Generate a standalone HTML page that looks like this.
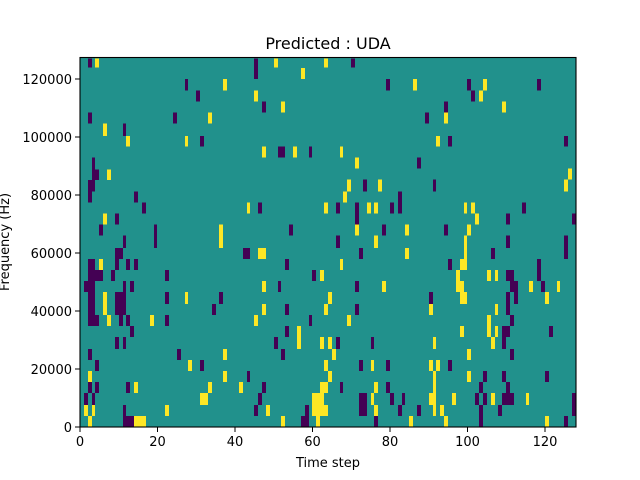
<!DOCTYPE html>
<html><head><meta charset="utf-8"><style>body{margin:0;background:#fff}svg{display:block}text{font-family:"DejaVu Sans","Liberation Sans",sans-serif;fill:#000}</style></head><body>
<svg width="640" height="480" viewBox="0 0 640 480" xmlns="http://www.w3.org/2000/svg">
<rect width="640" height="480" fill="#fff"/>
<defs><clipPath id="c"><rect x="80" y="57" width="496" height="370"/></clipPath></defs>
<g clip-path="url(#c)" shape-rendering="crispEdges">
<rect x="80" y="57" width="496" height="370" fill="#21918c"/>
<g transform="translate(80,56) scale(0.33333)">
<g fill="#440154">
<rect x="24" y="8" width="12" height="27"/><rect x="522" y="8" width="12" height="61"/><rect x="315" y="69" width="9" height="35"/><rect x="348" y="104" width="12" height="33"/><rect x="546" y="137" width="12" height="33"/><rect x="24" y="170" width="12" height="33"/><rect x="279" y="170" width="12" height="33"/><rect x="129" y="203" width="9" height="37"/><rect x="360" y="240" width="12" height="32"/><rect x="594" y="272" width="21" height="33"/><rect x="687" y="272" width="9" height="33"/><rect x="36" y="305" width="9" height="35"/><rect x="36" y="340" width="21" height="32"/><rect x="24" y="372" width="21" height="35"/><rect x="24" y="407" width="12" height="33"/><rect x="162" y="407" width="12" height="33"/><rect x="186" y="440" width="12" height="33"/><rect x="534" y="440" width="12" height="33"/><rect x="105" y="473" width="12" height="33"/><rect x="57" y="506" width="12" height="33"/><rect x="222" y="506" width="9" height="64"/><rect x="627" y="506" width="12" height="33"/><rect x="129" y="539" width="9" height="31"/>
</g><g fill="#fde725">
<rect x="45" y="8" width="12" height="27"/><rect x="582" y="8" width="12" height="27"/><rect x="732" y="8" width="12" height="27"/><rect x="663" y="36" width="12" height="33"/><rect x="429" y="69" width="12" height="35"/><rect x="522" y="104" width="12" height="33"/><rect x="603" y="137" width="12" height="33"/><rect x="384" y="170" width="12" height="33"/><rect x="69" y="203" width="12" height="37"/><rect x="138" y="240" width="12" height="32"/><rect x="315" y="240" width="9" height="32"/><rect x="546" y="272" width="12" height="33"/><rect x="639" y="272" width="12" height="33"/><rect x="81" y="340" width="12" height="32"/><rect x="501" y="440" width="9" height="33"/><rect x="732" y="440" width="12" height="33"/><rect x="69" y="473" width="12" height="33"/><rect x="417" y="506" width="12" height="64"/>
</g></g>
<g transform="translate(80,240) scale(0.33333)">
<g fill="#440154">
<rect x="129" y="0" width="9" height="24"/><rect x="222" y="0" width="9" height="24"/><rect x="105" y="24" width="24" height="33"/><rect x="489" y="24" width="21" height="33"/><rect x="24" y="57" width="21" height="33"/><rect x="105" y="57" width="12" height="33"/><rect x="138" y="57" width="12" height="33"/><rect x="162" y="57" width="12" height="33"/><rect x="615" y="57" width="12" height="33"/><rect x="24" y="90" width="45" height="33"/><rect x="93" y="90" width="12" height="33"/><rect x="255" y="90" width="12" height="33"/><rect x="696" y="90" width="12" height="33"/><rect x="12" y="123" width="33" height="33"/><rect x="129" y="123" width="9" height="33"/><rect x="150" y="123" width="12" height="33"/><rect x="594" y="123" width="9" height="33"/><rect x="24" y="156" width="21" height="69"/><rect x="105" y="156" width="33" height="69"/><rect x="255" y="156" width="12" height="36"/><rect x="417" y="156" width="12" height="36"/><rect x="396" y="192" width="12" height="33"/><rect x="615" y="192" width="12" height="33"/><rect x="24" y="225" width="33" height="33"/><rect x="117" y="225" width="12" height="33"/><rect x="138" y="225" width="12" height="33"/><rect x="255" y="225" width="12" height="33"/><rect x="687" y="225" width="9" height="33"/><rect x="150" y="258" width="12" height="33"/><rect x="615" y="258" width="12" height="33"/><rect x="105" y="291" width="12" height="36"/><rect x="129" y="291" width="9" height="36"/><rect x="582" y="291" width="12" height="36"/><rect x="24" y="327" width="12" height="33"/><rect x="291" y="327" width="12" height="33"/><rect x="603" y="327" width="12" height="33"/><rect x="45" y="360" width="12" height="33"/><rect x="360" y="360" width="12" height="33"/><rect x="501" y="393" width="9" height="33"/><rect x="24" y="426" width="12" height="33"/><rect x="45" y="426" width="12" height="33"/><rect x="138" y="426" width="12" height="33"/><rect x="546" y="426" width="12" height="33"/><rect x="12" y="459" width="12" height="36"/><rect x="36" y="459" width="9" height="36"/><rect x="534" y="459" width="12" height="36"/><rect x="129" y="495" width="9" height="33"/><rect x="522" y="495" width="12" height="33"/><rect x="675" y="495" width="12" height="33"/><rect x="129" y="528" width="33" height="40"/><rect x="663" y="528" width="24" height="40"/>
</g><g fill="#fde725">
<rect x="417" y="0" width="12" height="24"/><rect x="534" y="24" width="24" height="33"/><rect x="57" y="57" width="12" height="33"/><rect x="720" y="90" width="12" height="33"/><rect x="546" y="123" width="12" height="33"/><rect x="69" y="156" width="12" height="69"/><rect x="315" y="156" width="9" height="36"/><rect x="744" y="156" width="6" height="36"/><rect x="546" y="192" width="12" height="33"/><rect x="732" y="192" width="12" height="33"/><rect x="81" y="225" width="12" height="33"/><rect x="210" y="225" width="12" height="33"/><rect x="522" y="225" width="12" height="33"/><rect x="651" y="258" width="12" height="69"/><rect x="720" y="291" width="12" height="36"/><rect x="744" y="291" width="6" height="36"/><rect x="429" y="327" width="12" height="33"/><rect x="324" y="360" width="12" height="33"/><rect x="732" y="360" width="12" height="33"/><rect x="24" y="393" width="12" height="33"/><rect x="429" y="393" width="12" height="33"/><rect x="744" y="393" width="6" height="33"/><rect x="162" y="426" width="12" height="33"/><rect x="384" y="426" width="12" height="33"/><rect x="477" y="426" width="12" height="33"/><rect x="720" y="426" width="24" height="33"/><rect x="360" y="459" width="24" height="36"/><rect x="696" y="459" width="36" height="69"/><rect x="12" y="495" width="12" height="33"/><rect x="36" y="495" width="9" height="33"/><rect x="255" y="495" width="12" height="33"/><rect x="558" y="495" width="12" height="33"/><rect x="732" y="495" width="12" height="33"/><rect x="24" y="528" width="12" height="40"/><rect x="162" y="528" width="36" height="40"/><rect x="603" y="528" width="12" height="40"/><rect x="708" y="528" width="12" height="40"/>
</g></g>
<g transform="translate(326,56) scale(0.33333)">
<g fill="#440154">
<rect x="75" y="8" width="12" height="27"/><rect x="180" y="69" width="12" height="35"/><rect x="423" y="69" width="12" height="35"/><rect x="633" y="69" width="12" height="35"/><rect x="435" y="104" width="12" height="33"/><rect x="354" y="137" width="12" height="33"/><rect x="297" y="170" width="12" height="33"/><rect x="366" y="240" width="12" height="32"/><rect x="714" y="240" width="12" height="32"/><rect x="273" y="305" width="12" height="33"/><rect x="111" y="371" width="12" height="36"/><rect x="321" y="371" width="9" height="36"/><rect x="216" y="407" width="12" height="66"/><rect x="30" y="440" width="12" height="33"/><rect x="87" y="440" width="12" height="66"/><rect x="192" y="440" width="12" height="33"/><rect x="588" y="440" width="12" height="33"/><rect x="540" y="473" width="12" height="33"/><rect x="738" y="473" width="12" height="33"/><rect x="168" y="506" width="12" height="33"/><rect x="354" y="506" width="12" height="33"/><rect x="30" y="539" width="12" height="31"/><rect x="540" y="539" width="12" height="31"/><rect x="714" y="539" width="12" height="31"/>
</g><g fill="#fde725">
<rect x="0" y="8" width="6" height="27"/><rect x="261" y="69" width="12" height="35"/><rect x="471" y="69" width="12" height="35"/><rect x="459" y="104" width="12" height="33"/><rect x="528" y="137" width="12" height="33"/><rect x="354" y="170" width="12" height="33"/><rect x="330" y="240" width="12" height="32"/><rect x="42" y="272" width="9" height="33"/><rect x="87" y="305" width="12" height="33"/><rect x="726" y="338" width="12" height="33"/><rect x="63" y="371" width="12" height="36"/><rect x="156" y="371" width="12" height="36"/><rect x="714" y="371" width="12" height="36"/><rect x="51" y="407" width="12" height="33"/><rect x="0" y="440" width="6" height="33"/><rect x="123" y="440" width="12" height="33"/><rect x="144" y="440" width="12" height="33"/><rect x="414" y="440" width="9" height="33"/><rect x="435" y="440" width="12" height="33"/><rect x="447" y="473" width="12" height="33"/><rect x="87" y="506" width="12" height="33"/><rect x="237" y="506" width="12" height="33"/><rect x="423" y="506" width="12" height="33"/><rect x="144" y="539" width="12" height="31"/><rect x="414" y="539" width="9" height="31"/>
</g></g>
<g transform="translate(326,240) scale(0.33333)">
<g fill="#440154">
<rect x="30" y="0" width="12" height="24"/><rect x="540" y="0" width="12" height="24"/><rect x="714" y="0" width="12" height="57"/><rect x="99" y="24" width="12" height="33"/><rect x="495" y="24" width="12" height="33"/><rect x="366" y="57" width="12" height="33"/><rect x="633" y="57" width="12" height="66"/><rect x="540" y="90" width="24" height="33"/><rect x="87" y="123" width="12" height="33"/><rect x="552" y="123" width="24" height="33"/><rect x="645" y="123" width="12" height="33"/><rect x="309" y="156" width="12" height="36"/><rect x="540" y="156" width="12" height="69"/><rect x="564" y="156" width="12" height="36"/><rect x="87" y="192" width="12" height="33"/><rect x="552" y="225" width="12" height="33"/><rect x="528" y="258" width="24" height="33"/><rect x="669" y="258" width="12" height="33"/><rect x="30" y="291" width="12" height="36"/><rect x="135" y="291" width="9" height="36"/><rect x="528" y="291" width="12" height="36"/><rect x="552" y="327" width="12" height="33"/><rect x="99" y="360" width="12" height="33"/><rect x="180" y="360" width="12" height="33"/><rect x="366" y="360" width="12" height="33"/><rect x="471" y="393" width="12" height="33"/><rect x="528" y="393" width="12" height="33"/><rect x="657" y="393" width="12" height="33"/><rect x="42" y="426" width="9" height="33"/><rect x="180" y="426" width="12" height="33"/><rect x="459" y="426" width="12" height="33"/><rect x="540" y="426" width="12" height="33"/><rect x="99" y="459" width="24" height="69"/><rect x="192" y="459" width="12" height="36"/><rect x="228" y="459" width="9" height="36"/><rect x="447" y="459" width="12" height="36"/><rect x="471" y="459" width="12" height="36"/><rect x="528" y="459" width="36" height="36"/><rect x="738" y="459" width="12" height="69"/><rect x="216" y="495" width="12" height="33"/><rect x="273" y="495" width="12" height="33"/><rect x="459" y="495" width="12" height="73"/><rect x="516" y="495" width="12" height="33"/><rect x="144" y="528" width="12" height="40"/><rect x="714" y="528" width="12" height="40"/>
</g><g fill="#fde725">
<rect x="144" y="0" width="12" height="24"/><rect x="414" y="0" width="9" height="57"/><rect x="237" y="24" width="12" height="33"/><rect x="42" y="57" width="9" height="33"/><rect x="402" y="57" width="21" height="33"/><rect x="390" y="90" width="12" height="33"/><rect x="483" y="90" width="12" height="33"/><rect x="507" y="90" width="9" height="33"/><rect x="168" y="123" width="12" height="33"/><rect x="390" y="123" width="24" height="33"/><rect x="609" y="123" width="12" height="33"/><rect x="693" y="123" width="9" height="33"/><rect x="6" y="156" width="12" height="36"/><rect x="402" y="156" width="21" height="36"/><rect x="657" y="156" width="12" height="36"/><rect x="0" y="192" width="6" height="33"/><rect x="309" y="192" width="12" height="33"/><rect x="507" y="192" width="9" height="33"/><rect x="63" y="225" width="12" height="33"/><rect x="483" y="225" width="12" height="66"/><rect x="402" y="258" width="12" height="33"/><rect x="507" y="258" width="9" height="33"/><rect x="6" y="291" width="12" height="36"/><rect x="321" y="291" width="9" height="36"/><rect x="495" y="291" width="12" height="36"/><rect x="18" y="327" width="12" height="33"/><rect x="423" y="327" width="12" height="33"/><rect x="0" y="360" width="6" height="33"/><rect x="135" y="360" width="9" height="33"/><rect x="309" y="360" width="12" height="33"/><rect x="330" y="360" width="12" height="33"/><rect x="6" y="393" width="12" height="33"/><rect x="321" y="393" width="9" height="135"/><rect x="423" y="393" width="12" height="33"/><rect x="0" y="426" width="6" height="33"/><rect x="144" y="426" width="12" height="33"/><rect x="135" y="459" width="9" height="36"/><rect x="309" y="459" width="21" height="36"/><rect x="378" y="459" width="12" height="36"/><rect x="495" y="459" width="12" height="36"/><rect x="600" y="459" width="9" height="36"/><rect x="0" y="495" width="6" height="33"/><rect x="144" y="495" width="12" height="33"/><rect x="342" y="495" width="12" height="33"/><rect x="249" y="528" width="12" height="40"/><rect x="354" y="528" width="12" height="40"/><rect x="657" y="528" width="12" height="40"/>
</g></g>
</g>
<rect x="80" y="57.5" width="496" height="369.5" fill="none" stroke="#000" stroke-width="1.1"/>
<g stroke="#000" stroke-width="1">
<line x1="80" y1="427" x2="80" y2="432"/><line x1="157.5" y1="427" x2="157.5" y2="432"/><line x1="235" y1="427" x2="235" y2="432"/><line x1="312.5" y1="427" x2="312.5" y2="432"/><line x1="390" y1="427" x2="390" y2="432"/><line x1="467.5" y1="427" x2="467.5" y2="432"/><line x1="545" y1="427" x2="545" y2="432"/>
<line x1="75" y1="427" x2="80" y2="427"/><line x1="75" y1="369" x2="80" y2="369"/><line x1="75" y1="311" x2="80" y2="311"/><line x1="75" y1="253" x2="80" y2="253"/><line x1="75" y1="195" x2="80" y2="195"/><line x1="75" y1="137" x2="80" y2="137"/><line x1="75" y1="79" x2="80" y2="79"/>
</g>
<g font-size="13" text-anchor="middle">
<text x="80" y="446">0</text><text x="157.5" y="446">20</text><text x="235" y="446">40</text><text x="312.5" y="446">60</text><text x="390" y="446">80</text><text x="467.5" y="446">100</text><text x="545" y="446">120</text>
<text x="328" y="467">Time step</text>
</g>
<g font-size="13" text-anchor="end">
<text x="72" y="432">0</text><text x="72" y="374">20000</text><text x="72" y="316">40000</text><text x="72" y="258">60000</text><text x="72" y="200">80000</text><text x="72" y="142">100000</text><text x="72" y="84">120000</text>
</g>
<text font-size="13" text-anchor="middle" transform="translate(9,242) rotate(-90)">Frequency (Hz)</text>
<text font-size="16" x="328" y="49" text-anchor="middle">Predicted : UDA</text>
</svg>
</body></html>
